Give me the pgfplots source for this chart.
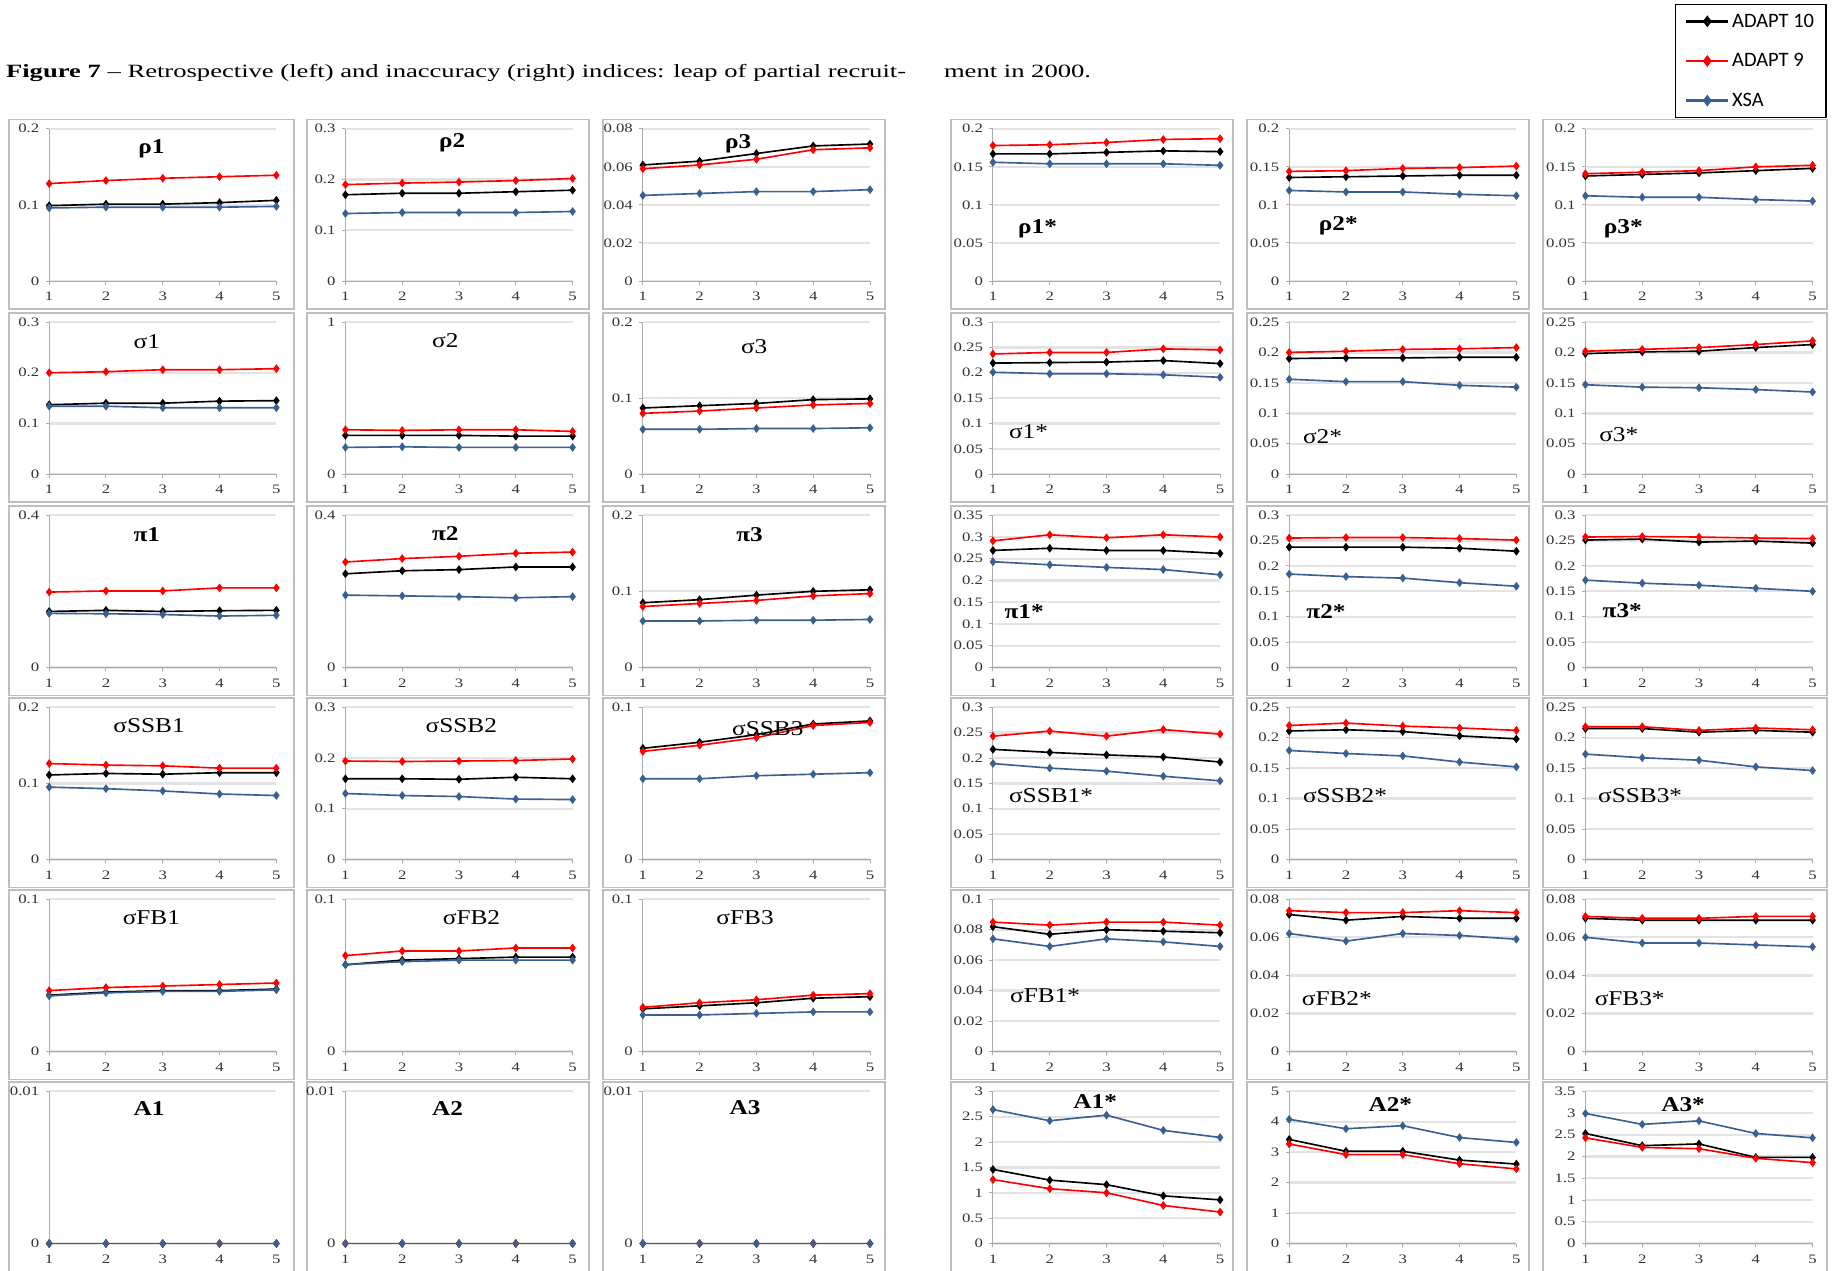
\documentclass[border=0pt]{standalone}
\usepackage{fontspec}
\setmainfont{Liberation Serif}
\newfontfamily\carlito{Carlito}
\usepackage{graphicx}
\usepackage{pgfplots}
\pgfplotsset{compat=1.18}
\definecolor{xsacol}{RGB}{58,95,145}
\newcommand{\plab}[1]{\scalebox{1.2}[1]{#1}}
\tikzset{lab/.style={font=\fontsize{18}{18}\selectfont, inner sep=0pt}}
\pgfplotsset{
 adapt10/.style={black, line width=1.4pt, mark=diamond*, mark size=2.6pt},
 adapt9/.style={red, line width=1.4pt, mark=diamond*, mark size=2.6pt},
 xsa/.style={xsacol, line width=1.4pt, mark=diamond*, mark size=2.6pt},
 panel/.style={
  scale only axis, width=194pt, height=130pt, anchor=south west,
  xmin=1, xmax=5, ymin=0, xtick={1,2,3,4,5},
  axis x line*=bottom, axis y line*=left,
  axis line style={gray!65, line width=0.8pt},
  tick style={gray!65, line width=0.8pt},
  tick align=outside, major tick length=3pt,
  ymajorgrids, grid style={gray!22, line width=2pt},
  scaled y ticks=false,
  yticklabel={\scalebox{1.3}[1]{\pgfmathprintnumber{\tick}}},
  xticklabel={\scalebox{1.3}[1]{\pgfmathprintnumber{\tick}}},
  ticklabel style={font=\fontsize{11}{11}\selectfont, text=black!80},
  xticklabel style={yshift=-3pt},
  yticklabel style={xshift=-2pt},
  /pgf/number format/fixed, /pgf/number format/precision=3,
  /pgf/number format/assume math mode=true,
 },
}
\newcommand{\panel}[7]{%
\begin{axis}[panel, at={(#1pt,#2pt)}, #3]
\addplot[adapt10] coordinates {#5};
\addplot[adapt9] coordinates {#6};
\addplot[xsa] coordinates {#7};
#4
\end{axis}}
\begin{document}
\begin{tikzpicture}
\useasboundingbox (0,0) rectangle (1568pt,1085pt);
\fill[white] (0,0) rectangle (1568pt,1085pt);
% frames
\foreach \xa/\xb in {8/251,262/503,515/756,812/1053,1065/1306,1318/1560}
 \foreach \yb in {821,656,491,327,163,-1}
  \draw[gray!50, line width=1.5pt] ({\xa*1pt},{\yb*1pt}) rectangle ({\xb*1pt},{(\yb+162)*1pt});
% title
\node[anchor=base west, inner sep=0pt, font=\fontsize{16}{16}\selectfont] at (5pt,1019pt) {\scalebox{1.42}[1]{\textbf{Figure 7} – Retrospective (left) and inaccuracy (right) indices: leap of partial recruit-}};
\node[anchor=base west, inner sep=0pt, font=\fontsize{16}{16}\selectfont] at (806pt,1019pt) {\scalebox{1.42}[1]{ment in 2000.}};

% ===== Row 1 =====
\panel{42}{845}{ymax=0.2, ytick={0,0.1,0.2}}{\node[lab] at (rel axis cs:0.45,0.87) {\plab{\textbf{ρ1}}};}
{(1,0.099)(2,0.101)(3,0.101)(4,0.103)(5,0.106)}
{(1,0.128)(2,0.132)(3,0.135)(4,0.137)(5,0.139)}
{(1,0.096)(2,0.097)(3,0.097)(4,0.097)(5,0.098)}
\panel{295}{845}{ymax=0.3, ytick={0,0.1,0.2,0.3}}{\node[lab] at (rel axis cs:0.47,0.91) {\plab{\textbf{ρ2}}};}
{(1,0.170)(2,0.173)(3,0.173)(4,0.176)(5,0.179)}
{(1,0.190)(2,0.193)(3,0.195)(4,0.198)(5,0.202)}
{(1,0.133)(2,0.135)(3,0.135)(4,0.135)(5,0.137)}
\panel{549}{845}{ymax=0.08, ytick={0,0.02,0.04,0.06,0.08}}{\node[lab] at (rel axis cs:0.42,0.90) {\plab{\textbf{ρ3}}};}
{(1,0.061)(2,0.063)(3,0.067)(4,0.071)(5,0.072)}
{(1,0.059)(2,0.061)(3,0.064)(4,0.069)(5,0.070)}
{(1,0.045)(2,0.046)(3,0.047)(4,0.047)(5,0.048)}
\panel{848}{845}{ymax=0.2, ytick={0,0.05,0.1,0.15,0.2}}{\node[lab, anchor=west] at (rel axis cs:0.11,0.345) {\plab{\textbf{ρ1*}}};}
{(1,0.167)(2,0.167)(3,0.169)(4,0.171)(5,0.170)}
{(1,0.178)(2,0.179)(3,0.182)(4,0.186)(5,0.187)}
{(1,0.156)(2,0.154)(3,0.154)(4,0.154)(5,0.152)}
\panel{1101}{845}{ymax=0.2, ytick={0,0.05,0.1,0.15,0.2}}{\node[lab, anchor=west] at (rel axis cs:0.13,0.365) {\plab{\textbf{ρ2*}}};}
{(1,0.136)(2,0.137)(3,0.138)(4,0.139)(5,0.139)}
{(1,0.144)(2,0.145)(3,0.148)(4,0.149)(5,0.151)}
{(1,0.119)(2,0.117)(3,0.117)(4,0.114)(5,0.112)}
\panel{1354}{845}{ymax=0.2, ytick={0,0.05,0.1,0.15,0.2}}{\node[lab, anchor=west] at (rel axis cs:0.08,0.345) {\plab{\textbf{ρ3*}}};}
{(1,0.138)(2,0.140)(3,0.142)(4,0.145)(5,0.148)}
{(1,0.141)(2,0.143)(3,0.145)(4,0.150)(5,0.152)}
{(1,0.112)(2,0.110)(3,0.110)(4,0.107)(5,0.105)}

% ===== Row 2 =====
\panel{42}{680}{ymax=0.3, ytick={0,0.1,0.2,0.3}}{\node[lab] at (rel axis cs:0.43,0.87) {\plab{σ1}};}
{(1,0.137)(2,0.140)(3,0.140)(4,0.144)(5,0.145)}
{(1,0.200)(2,0.202)(3,0.206)(4,0.206)(5,0.208)}
{(1,0.134)(2,0.134)(3,0.131)(4,0.131)(5,0.131)}
\panel{295}{680}{ymax=1, ytick={0,1}}{\node[lab] at (rel axis cs:0.44,0.88) {\plab{σ2}};}
{(1,0.255)(2,0.255)(3,0.255)(4,0.250)(5,0.250)}
{(1,0.292)(2,0.288)(3,0.292)(4,0.292)(5,0.281)}
{(1,0.176)(2,0.180)(3,0.176)(4,0.176)(5,0.176)}
\panel{549}{680}{ymax=0.2, ytick={0,0.1,0.2}}{\node[lab] at (rel axis cs:0.49,0.84) {\plab{σ3}};}
{(1,0.087)(2,0.090)(3,0.093)(4,0.098)(5,0.099)}
{(1,0.080)(2,0.083)(3,0.087)(4,0.091)(5,0.093)}
{(1,0.059)(2,0.059)(3,0.060)(4,0.060)(5,0.061)}
\panel{848}{680}{ymax=0.3, ytick={0,0.05,0.1,0.15,0.2,0.25,0.3}}{\node[lab, anchor=west] at (rel axis cs:0.07,0.28) {\plab{σ1*}};}
{(1,0.219)(2,0.220)(3,0.221)(4,0.224)(5,0.218)}
{(1,0.237)(2,0.240)(3,0.240)(4,0.247)(5,0.245)}
{(1,0.201)(2,0.198)(3,0.198)(4,0.196)(5,0.191)}
\panel{1101}{680}{ymax=0.25, ytick={0,0.05,0.1,0.15,0.2,0.25}}{\node[lab, anchor=west] at (rel axis cs:0.06,0.25) {\plab{σ2*}};}
{(1,0.190)(2,0.191)(3,0.191)(4,0.192)(5,0.192)}
{(1,0.200)(2,0.202)(3,0.205)(4,0.206)(5,0.208)}
{(1,0.156)(2,0.152)(3,0.152)(4,0.146)(5,0.143)}
\panel{1354}{680}{ymax=0.25, ytick={0,0.05,0.1,0.15,0.2,0.25}}{\node[lab, anchor=west] at (rel axis cs:0.06,0.257) {\plab{σ3*}};}
{(1,0.198)(2,0.201)(3,0.202)(4,0.208)(5,0.213)}
{(1,0.202)(2,0.205)(3,0.208)(4,0.213)(5,0.219)}
{(1,0.147)(2,0.143)(3,0.142)(4,0.139)(5,0.135)}

% ===== Row 3 =====
\panel{42}{515}{ymax=0.4, ytick={0,0.4}}{\node[lab] at (rel axis cs:0.43,0.87) {\plab{\textbf{π1}}};}
{(1,0.147)(2,0.150)(3,0.147)(4,0.149)(5,0.150)}
{(1,0.198)(2,0.201)(3,0.201)(4,0.209)(5,0.209)}
{(1,0.142)(2,0.141)(3,0.139)(4,0.135)(5,0.137)}
\panel{295}{515}{ymax=0.4, ytick={0,0.4}}{\node[lab] at (rel axis cs:0.44,0.88) {\plab{\textbf{π2}}};}
{(1,0.246)(2,0.254)(3,0.257)(4,0.264)(5,0.264)}
{(1,0.277)(2,0.286)(3,0.292)(4,0.300)(5,0.303)}
{(1,0.190)(2,0.188)(3,0.186)(4,0.183)(5,0.186)}
\panel{549}{515}{ymax=0.2, ytick={0,0.1,0.2}}{\node[lab] at (rel axis cs:0.47,0.87) {\plab{\textbf{π3}}};}
{(1,0.085)(2,0.089)(3,0.095)(4,0.100)(5,0.102)}
{(1,0.080)(2,0.084)(3,0.088)(4,0.094)(5,0.097)}
{(1,0.061)(2,0.061)(3,0.062)(4,0.062)(5,0.063)}
\panel{848}{515}{ymax=0.35, ytick={0,0.05,0.1,0.15,0.2,0.25,0.3,0.35}}{\node[lab, anchor=west] at (rel axis cs:0.05,0.367) {\plab{\textbf{π1*}}};}
{(1,0.269)(2,0.274)(3,0.269)(4,0.269)(5,0.262)}
{(1,0.291)(2,0.305)(3,0.298)(4,0.305)(5,0.300)}
{(1,0.243)(2,0.236)(3,0.230)(4,0.225)(5,0.213)}
\panel{1101}{515}{ymax=0.3, ytick={0,0.05,0.1,0.15,0.2,0.25,0.3}}{\node[lab, anchor=west] at (rel axis cs:0.075,0.367) {\plab{\textbf{π2*}}};}
{(1,0.237)(2,0.237)(3,0.237)(4,0.235)(5,0.229)}
{(1,0.255)(2,0.256)(3,0.256)(4,0.254)(5,0.251)}
{(1,0.184)(2,0.179)(3,0.176)(4,0.167)(5,0.160)}
\panel{1354}{515}{ymax=0.3, ytick={0,0.05,0.1,0.15,0.2,0.25,0.3}}{\node[lab, anchor=west] at (rel axis cs:0.075,0.37) {\plab{\textbf{π3*}}};}
{(1,0.251)(2,0.253)(3,0.247)(4,0.249)(5,0.245)}
{(1,0.257)(2,0.258)(3,0.257)(4,0.255)(5,0.254)}
{(1,0.172)(2,0.166)(3,0.162)(4,0.156)(5,0.150)}

% ===== Row 4 =====
\panel{42}{351}{ymax=0.2, ytick={0,0.1,0.2}}{\node[lab] at (rel axis cs:0.44,0.877) {\plab{σSSB1}};}
{(1,0.111)(2,0.113)(3,0.112)(4,0.114)(5,0.114)}
{(1,0.126)(2,0.124)(3,0.123)(4,0.120)(5,0.120)}
{(1,0.095)(2,0.093)(3,0.090)(4,0.086)(5,0.084)}
\panel{295}{351}{ymax=0.3, ytick={0,0.1,0.2,0.3}}{\node[lab] at (rel axis cs:0.51,0.877) {\plab{σSSB2}};}
{(1,0.159)(2,0.159)(3,0.158)(4,0.162)(5,0.159)}
{(1,0.194)(2,0.193)(3,0.194)(4,0.195)(5,0.198)}
{(1,0.130)(2,0.126)(3,0.124)(4,0.119)(5,0.118)}
\panel{549}{351}{ymax=0.1, ytick={0,0.1}}{\node[lab] at (rel axis cs:0.55,0.86) {\plab{σSSB3}};}
{(1,0.073)(2,0.077)(3,0.082)(4,0.089)(5,0.091)}
{(1,0.071)(2,0.075)(3,0.080)(4,0.088)(5,0.090)}
{(1,0.053)(2,0.053)(3,0.055)(4,0.056)(5,0.057)}
\panel{848}{351}{ymax=0.3, ytick={0,0.05,0.1,0.15,0.2,0.25,0.3}}{\node[lab, anchor=west] at (rel axis cs:0.07,0.42) {\plab{σSSB1*}};}
{(1,0.217)(2,0.211)(3,0.206)(4,0.202)(5,0.192)}
{(1,0.243)(2,0.253)(3,0.243)(4,0.256)(5,0.247)}
{(1,0.189)(2,0.180)(3,0.174)(4,0.164)(5,0.155)}
\panel{1101}{351}{ymax=0.25, ytick={0,0.05,0.1,0.15,0.2,0.25}}{\node[lab, anchor=west] at (rel axis cs:0.06,0.42) {\plab{σSSB2*}};}
{(1,0.211)(2,0.213)(3,0.210)(4,0.203)(5,0.198)}
{(1,0.220)(2,0.224)(3,0.219)(4,0.216)(5,0.212)}
{(1,0.179)(2,0.174)(3,0.170)(4,0.160)(5,0.152)}
\panel{1354}{351}{ymax=0.25, ytick={0,0.05,0.1,0.15,0.2,0.25}}{\node[lab, anchor=west] at (rel axis cs:0.055,0.42) {\plab{σSSB3*}};}
{(1,0.215)(2,0.215)(3,0.209)(4,0.212)(5,0.209)}
{(1,0.218)(2,0.218)(3,0.212)(4,0.216)(5,0.213)}
{(1,0.173)(2,0.167)(3,0.163)(4,0.152)(5,0.146)}

% ===== Row 5 =====
\panel{42}{187}{ymax=0.1, ytick={0,0.1}}{\node[lab] at (rel axis cs:0.45,0.88) {\plab{σFB1}};}
{(1,0.037)(2,0.039)(3,0.040)(4,0.040)(5,0.041)}
{(1,0.040)(2,0.042)(3,0.043)(4,0.044)(5,0.045)}
{(1,0.0365)(2,0.0385)(3,0.0395)(4,0.0395)(5,0.0405)}
\panel{295}{187}{ymax=0.1, ytick={0,0.1}}{\node[lab] at (rel axis cs:0.555,0.88) {\plab{σFB2}};}
{(1,0.057)(2,0.060)(3,0.061)(4,0.062)(5,0.062)}
{(1,0.063)(2,0.066)(3,0.066)(4,0.068)(5,0.068)}
{(1,0.057)(2,0.059)(3,0.060)(4,0.060)(5,0.060)}
\panel{549}{187}{ymax=0.1, ytick={0,0.1}}{\node[lab] at (rel axis cs:0.45,0.88) {\plab{σFB3}};}
{(1,0.028)(2,0.030)(3,0.032)(4,0.035)(5,0.036)}
{(1,0.029)(2,0.032)(3,0.034)(4,0.037)(5,0.038)}
{(1,0.024)(2,0.024)(3,0.025)(4,0.026)(5,0.026)}
\panel{848}{187}{ymax=0.1, ytick={0,0.02,0.04,0.06,0.08,0.1}}{\node[lab, anchor=west] at (rel axis cs:0.075,0.368) {\plab{σFB1*}};}
{(1,0.082)(2,0.077)(3,0.080)(4,0.079)(5,0.078)}
{(1,0.085)(2,0.083)(3,0.085)(4,0.085)(5,0.083)}
{(1,0.074)(2,0.069)(3,0.074)(4,0.072)(5,0.069)}
\panel{1101}{187}{ymax=0.08, ytick={0,0.02,0.04,0.06,0.08}}{\node[lab, anchor=west] at (rel axis cs:0.055,0.35) {\plab{σFB2*}};}
{(1,0.072)(2,0.069)(3,0.071)(4,0.070)(5,0.070)}
{(1,0.074)(2,0.073)(3,0.073)(4,0.074)(5,0.073)}
{(1,0.062)(2,0.058)(3,0.062)(4,0.061)(5,0.059)}
\panel{1354}{187}{ymax=0.08, ytick={0,0.02,0.04,0.06,0.08}}{\node[lab, anchor=west] at (rel axis cs:0.04,0.35) {\plab{σFB3*}};}
{(1,0.070)(2,0.069)(3,0.069)(4,0.069)(5,0.069)}
{(1,0.071)(2,0.070)(3,0.070)(4,0.071)(5,0.071)}
{(1,0.060)(2,0.057)(3,0.057)(4,0.056)(5,0.055)}

% ===== Row 6 =====
\panel{42}{23}{ymax=0.01, ytick={0,0.01}}{\node[lab] at (rel axis cs:0.44,0.89) {\plab{\textbf{A1}}};}
{(1,0)(2,0)(3,0)(4,0)(5,0)}
{(1,0)(2,0)(3,0)(4,0)(5,0)}
{(1,0)(2,0)(3,0)(4,0)(5,0)}
\panel{295}{23}{ymax=0.01, ytick={0,0.01}}{\node[lab] at (rel axis cs:0.45,0.89) {\plab{\textbf{A2}}};}
{(1,0)(2,0)(3,0)(4,0)(5,0)}
{(1,0)(2,0)(3,0)(4,0)(5,0)}
{(1,0)(2,0)(3,0)(4,0)(5,0)}
\panel{549}{23}{ymax=0.01, ytick={0,0.01}}{\node[lab] at (rel axis cs:0.45,0.89) {\plab{\textbf{A3}}};}
{(1,0)(2,0)(3,0)(4,0)(5,0)}
{(1,0)(2,0)(3,0)(4,0)(5,0)}
{(1,0)(2,0)(3,0)(4,0)(5,0)}
\panel{848}{23}{ymax=3, ytick={0,0.5,1,1.5,2,2.5,3}}{\node[lab] at (rel axis cs:0.45,0.93) {\plab{\textbf{A1*}}};}
{(1,1.46)(2,1.25)(3,1.16)(4,0.94)(5,0.86)}
{(1,1.26)(2,1.08)(3,1.00)(4,0.75)(5,0.62)}
{(1,2.64)(2,2.42)(3,2.53)(4,2.23)(5,2.09)}
\panel{1101}{23}{ymax=5, ytick={0,1,2,3,4,5}}{\node[lab] at (rel axis cs:0.445,0.91) {\plab{\textbf{A2*}}};}
{(1,3.42)(2,3.03)(3,3.03)(4,2.74)(5,2.61)}
{(1,3.27)(2,2.92)(3,2.92)(4,2.62)(5,2.45)}
{(1,4.08)(2,3.77)(3,3.87)(4,3.48)(5,3.32)}
\panel{1354}{23}{ymax=3.5, ytick={0,0.5,1,1.5,2,2.5,3,3.5}}{\node[lab] at (rel axis cs:0.43,0.91) {\plab{\textbf{A3*}}};}
{(1,2.53)(2,2.25)(3,2.29)(4,1.98)(5,1.98)}
{(1,2.43)(2,2.21)(3,2.18)(4,1.96)(5,1.86)}
{(1,2.99)(2,2.74)(3,2.82)(4,2.53)(5,2.43)}

% ===== Legend =====
\begin{axis}[hide axis, scale only axis, width=1568pt, height=1085pt, at={(0pt,0pt)}, anchor=south west,
 xmin=0, xmax=1, ymin=0, ymax=1,
 legend style={at={(0.9949,0.9972)}, anchor=north east, draw=black, line width=1.5pt, fill=white,
  font=\carlito\fontsize{17.5}{17.5}\selectfont, row sep=17pt, inner xsep=8pt, inner ysep=6pt},
 legend cell align=left,
 legend image code/.code={\draw[line width=2.5pt, mark repeat=2, mark phase=2] plot coordinates {(0pt,0pt)(18pt,0pt)(36pt,0pt)};}]
\addlegendimage{black, mark=diamond*, mark size=3pt}
\addlegendentry{ADAPT 10}
\addlegendimage{red, mark=diamond*, mark size=3pt}
\addlegendentry{ADAPT 9}
\addlegendimage{xsacol, mark=diamond*, mark size=3pt}
\addlegendentry{XSA}
\end{axis}
\end{tikzpicture}
\end{document}
